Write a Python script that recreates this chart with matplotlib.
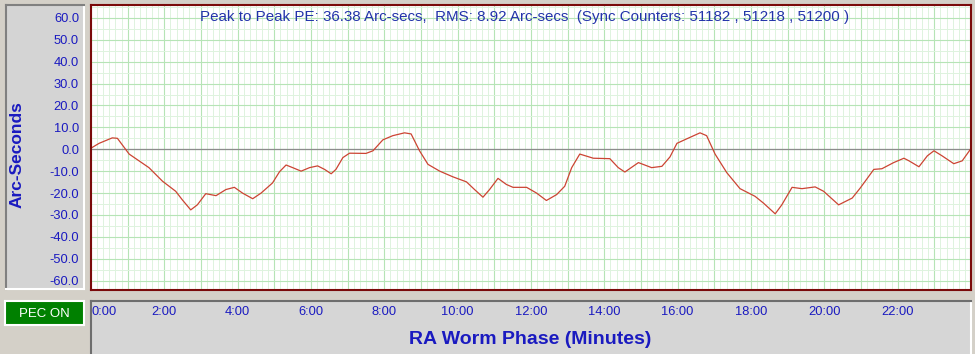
import matplotlib
matplotlib.use("Agg")
import matplotlib.pyplot as plt
from matplotlib.ticker import MultipleLocator, FuncFormatter

# periodic error trace (minutes, arc-seconds)
minutes = [0.00, 0.22, 0.58, 0.72, 1.04, 1.31, 1.58, 1.95, 2.31, 2.49,
           2.72, 2.90, 3.13, 3.41, 3.68, 3.91, 4.13, 4.41, 4.64, 4.95,
           5.14, 5.32, 5.50, 5.73, 5.96, 6.18, 6.37, 6.55, 6.68, 6.87,
           7.05, 7.50, 7.69, 7.96, 8.23, 8.55, 8.73, 8.96, 9.19, 9.51,
           9.87, 10.24, 10.46, 10.69, 10.87, 11.10, 11.33, 11.51, 11.88, 12.15,
           12.42, 12.70, 12.92, 13.11, 13.33, 13.70, 14.15, 14.38, 14.56, 14.93,
           15.29, 15.57, 15.79, 15.98, 16.24, 16.61, 16.79, 17.02, 17.34, 17.70,
           18.11, 18.34, 18.66, 18.84, 19.12, 19.39, 19.75, 19.98, 20.39, 20.76,
           20.98, 21.35, 21.57, 21.89, 22.17, 22.31, 22.58, 22.81, 22.99, 23.21,
           23.53, 23.76, 23.99]
arcsec = [0.5, 2.7, 5.2, 5.0, -2.2, -5.3, -8.4, -14.6, -19.2, -23.1,
          -27.7, -25.4, -20.3, -21.2, -18.4, -17.4, -20.0, -22.6, -20.0, -15.4,
          -10.3, -7.2, -8.4, -10.0, -8.4, -7.6, -9.2, -11.2, -9.2, -3.8,
          -1.8, -1.9, -0.7, 4.3, 6.2, 7.5, 7.0, -0.7, -6.9, -10.0,
          -12.6, -14.9, -18.4, -21.9, -18.4, -13.3, -16.1, -17.4, -17.4, -20.0,
          -23.4, -20.7, -16.9, -8.4, -2.2, -4.1, -4.3, -8.4, -10.4, -6.1,
          -8.4, -7.8, -3.5, 2.7, 4.7, 7.5, 6.2, -2.2, -10.7, -18.0,
          -21.5, -24.6, -29.5, -25.4, -17.4, -18.0, -17.2, -19.2, -25.4, -22.3,
          -17.7, -9.2, -8.9, -6.1, -4.1, -5.3, -8.0, -3.0, -0.7, -3.0,
          -6.6, -5.3, 0.1]

# one gridline per minute, labels every other minute
x_ticks = list(range(0, 25))
x_tick_labels = ["0:00", "", "2:00", "", "4:00", "", "6:00", "", "8:00", "",
                 "10:00", "", "12:00", "", "14:00", "", "16:00", "", "18:00", "",
                 "20:00", "", "22:00", "", ""]
y_ticks = [-60, -50, -40, -30, -20, -10, 0, 10, 20, 30, 40, 50, 60]
title_text = ("Peak to Peak PE: 36.38 Arc-secs,  RMS: 8.92 Arc-secs  "
              "(Sync Counters: 51182 , 51218 , 51200 )")

W, H = 975, 354
BLUE = "#1a1ac0"
plt.rcParams["font.family"] = ["Liberation Sans", "DejaVu Sans"]


def box(x0, y0, x1, y1):
    # pixel box (top-left origin) -> figure fraction rect
    return [x0 / W, 1 - y1 / H, (x1 - x0) / W, (y1 - y0) / H]


def panel(fig, rect, face, dark, light, z=0):
    a = fig.add_axes(rect, zorder=z)
    a.set_facecolor(face)
    a.set_xticks([])
    a.set_yticks([])
    a.spines["left"].set_color(dark)
    a.spines["top"].set_color(dark)
    a.spines["right"].set_color(light)
    a.spines["bottom"].set_color(light)
    for s in a.spines.values():
        s.set_linewidth(1.5)
    return a


fig = plt.figure(figsize=(W / 100, H / 100), dpi=100, facecolor="#d4d0c8")

panel(fig, box(6, 5, 84, 289), "#d4d4d4", "#808080", "#ffffff")
panel(fig, box(91, 301, 971, 356), "#d6d6d6", "#6e6e6e", "#ffffff")

pec = panel(fig, box(5, 301, 84, 325), "#008000", "#ffffff", "#ffffff", z=1)
pec.text(0.5, 0.46, "PEC ON", color="white", fontsize=9.5,
         ha="center", va="center", transform=pec.transAxes)

ax = fig.add_axes(box(91, 5, 971, 290), zorder=2)
ax.set_facecolor("white")
ax.set_xlim(0, 24)
ax.set_ylim(-64.3, 65.9)

ax.set_xticks(x_ticks, x_tick_labels)
ax.xaxis.set_minor_locator(MultipleLocator(1 / 6))
ax.set_yticks(y_ticks)
ax.yaxis.set_minor_locator(MultipleLocator(5))
ax.yaxis.set_major_formatter(FuncFormatter(lambda v, p: "%.1f" % v))

ax.grid(which="major", color="#b6e4b6", linewidth=0.8)
ax.grid(which="minor", color="#def3de", linewidth=0.7)
ax.set_axisbelow(True)
ax.tick_params(which="both", length=0)
ax.tick_params(axis="x", pad=11.8, labelsize=9.3, labelcolor=BLUE)
ax.tick_params(axis="y", pad=8.6, labelsize=9.3, labelcolor=BLUE)
ax.get_xticklabels()[0].set_ha("left")

for s in ax.spines.values():
    s.set_color("#7a0a0a")
    s.set_linewidth(1.5)

ax.axhline(0, color="#8c8c8c", linewidth=0.9)
ax.plot(minutes, arcsec, color="#cc4433", linewidth=0.9)

ax.text(0.4926, 0.958, title_text, transform=ax.transAxes, ha="center",
        va="center", color="#2233aa", fontsize=10.9)

fig.text(17 / W, 1 - 155 / H, "Arc-Seconds", rotation=90, ha="center",
         va="center", color=BLUE, fontsize=12.5, fontweight="bold")
fig.text(530 / W, 1 - 340 / H, "RA Worm Phase (Minutes)", ha="center",
         va="center", color=BLUE, fontsize=14, fontweight="bold")

fig.savefig("out.png", dpi=100, facecolor=fig.get_facecolor())
